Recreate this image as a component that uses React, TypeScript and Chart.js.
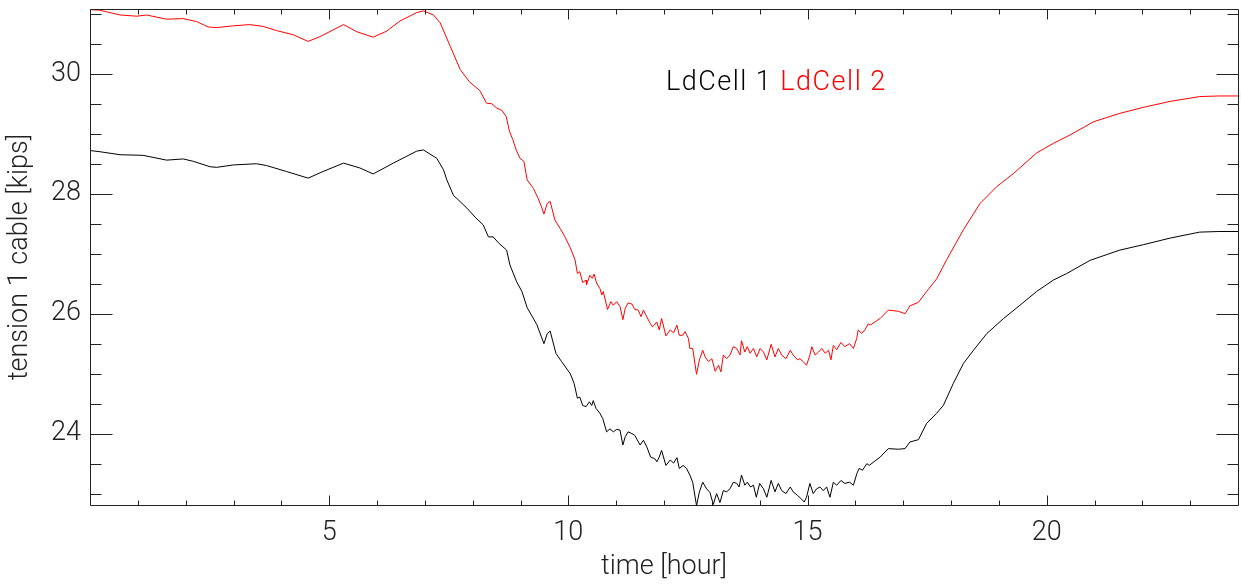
import React, { useEffect, useRef } from 'react';
import { Chart, registerables } from 'chart.js';

Chart.register(...registerables);

// ---- data (time in hours, tension in kips) ----
const redTimes = [
  0, 0.2, 0.63, 0.98, 1.18, 1.6, 1.95, 2.23, 2.47, 2.65, 3.0, 3.34, 3.62, 3.9, 4.25, 4.56, 4.81, 5.08, 5.3, 5.58,
  5.92, 6.2, 6.48, 6.83, 6.97, 7.18, 7.32, 7.53, 7.74, 7.94, 8.15, 8.29, 8.4, 8.5, 8.61, 8.7, 8.77, 8.84, 8.91, 8.99,
  9.07, 9.14, 9.27, 9.37, 9.44, 9.49, 9.56, 9.62, 9.72, 9.83, 9.93, 10.04, 10.14, 10.19, 10.24, 10.3, 10.37, 10.38, 10.45, 10.5,
  10.54, 10.59, 10.66, 10.7, 10.73, 10.82, 10.89, 10.94, 11.01, 11.08, 11.14, 11.19, 11.25, 11.33, 11.39, 11.46, 11.52, 11.57, 11.62, 11.71,
  11.76, 11.85, 11.9, 11.95, 12.04, 12.13, 12.2, 12.27, 12.32, 12.39, 12.44, 12.51, 12.54, 12.6, 12.68, 12.74, 12.81, 12.86, 12.93, 13.0,
  13.07, 13.14, 13.19, 13.24, 13.31, 13.38, 13.45, 13.52, 13.59, 13.62, 13.69, 13.74, 13.8, 13.87, 13.94, 14.01, 14.08, 14.15, 14.24, 14.32,
  14.39, 14.46, 14.55, 14.64, 14.7, 14.79, 14.84, 14.91, 14.98, 15.05, 15.09, 15.16, 15.23, 15.3, 15.37, 15.44, 15.49, 15.54, 15.61, 15.7,
  15.78, 15.88, 15.96, 16.03, 16.06, 16.13, 16.2, 16.27, 16.31, 16.52, 16.69, 16.9, 17.04, 17.14, 17.32, 17.49, 17.7, 17.91, 18.26, 18.61,
  18.96, 19.31, 19.79, 20.14, 20.49, 20.98, 21.53, 22.02, 22.58, 23.2, 23.6, 24.0,
];
const redValues = [
  31.07, 31.06, 30.98, 30.96, 30.98, 30.91, 30.92, 30.87, 30.78, 30.77, 30.8, 30.82, 30.79, 30.72, 30.65, 30.54, 30.62, 30.73, 30.82, 30.7,
  30.61, 30.71, 30.88, 31.02, 31.05, 30.98, 30.85, 30.46, 30.07, 29.86, 29.72, 29.51, 29.5, 29.43, 29.39, 29.29, 29.04, 28.9, 28.73, 28.59,
  28.54, 28.23, 28.09, 27.92, 27.78, 27.66, 27.84, 27.87, 27.56, 27.42, 27.28, 27.1, 26.9, 26.67, 26.7, 26.52, 26.56, 26.48, 26.64, 26.59,
  26.66, 26.51, 26.42, 26.31, 26.37, 26.07, 26.2, 26.14, 26.2, 26.12, 25.9, 26.09, 26.18, 26.16, 26.07, 26.06, 25.95, 26.06, 25.98, 25.84,
  25.78, 25.86, 25.73, 25.92, 25.63, 25.73, 25.68, 25.81, 25.64, 25.64, 25.7, 25.59, 25.42, 25.42, 24.99, 25.23, 25.39, 25.28, 25.2, 25.25,
  25.04, 25.14, 25.03, 25.31, 25.25, 25.31, 25.45, 25.42, 25.31, 25.55, 25.36, 25.45, 25.34, 25.42, 25.28, 25.42, 25.36, 25.23, 25.49, 25.28,
  25.42, 25.31, 25.25, 25.39, 25.31, 25.23, 25.25, 25.2, 25.14, 25.31, 25.45, 25.31, 25.36, 25.42, 25.34, 25.39, 25.23, 25.47, 25.4, 25.52,
  25.45, 25.5, 25.42, 25.59, 25.73, 25.67, 25.73, 25.83, 25.81, 25.92, 26.06, 26.04, 26.0, 26.13, 26.19, 26.37, 26.58, 26.9, 27.4, 27.84,
  28.12, 28.34, 28.68, 28.84, 28.98, 29.2, 29.34, 29.44, 29.54, 29.62, 29.63, 29.63,
];

const blackTimes = [
  0, 0.21, 0.63, 1.11, 1.6, 1.95, 2.16, 2.51, 2.65, 3.0, 3.48, 3.69, 4.11, 4.56, 4.87, 5.3, 5.64, 5.92, 6.34, 6.83,
  6.97, 7.25, 7.39, 7.46, 7.6, 7.67, 7.88, 8.05, 8.22, 8.33, 8.43, 8.54, 8.71, 8.78, 8.85, 8.92, 9.03, 9.14, 9.34, 9.49,
  9.56, 9.62, 9.74, 9.86, 10.04, 10.12, 10.19, 10.24, 10.3, 10.37, 10.44, 10.49, 10.52, 10.58, 10.66, 10.72, 10.8, 10.87, 10.94, 11.01,
  11.08, 11.14, 11.19, 11.25, 11.33, 11.39, 11.5, 11.57, 11.64, 11.72, 11.81, 11.85, 11.9, 11.95, 12.04, 12.13, 12.2, 12.27, 12.32, 12.4,
  12.47, 12.54, 12.6, 12.68, 12.74, 12.81, 12.89, 12.96, 13.03, 13.1, 13.17, 13.24, 13.31, 13.38, 13.45, 13.52, 13.57, 13.62, 13.69, 13.74,
  13.81, 13.87, 13.93, 14.0, 14.08, 14.15, 14.24, 14.32, 14.39, 14.46, 14.55, 14.64, 14.7, 14.79, 14.86, 14.93, 14.98, 15.05, 15.12, 15.19,
  15.26, 15.33, 15.4, 15.47, 15.54, 15.61, 15.7, 15.78, 15.88, 15.96, 16.03, 16.08, 16.15, 16.24, 16.29, 16.52, 16.69, 16.9, 17.04, 17.14,
  17.32, 17.49, 17.7, 17.84, 18.05, 18.26, 18.47, 18.75, 19.1, 19.44, 19.79, 20.14, 20.42, 20.91, 21.53, 22.02, 22.58, 23.2, 23.6, 24.0,
];
const blackValues = [
  28.72, 28.7, 28.65, 28.64, 28.56, 28.58, 28.54, 28.45, 28.44, 28.48, 28.5, 28.47, 28.37, 28.26, 28.37, 28.51, 28.43, 28.33, 28.51, 28.71,
  28.73, 28.59, 28.4, 28.23, 27.97, 27.92, 27.76, 27.61, 27.48, 27.28, 27.28, 27.18, 27.06, 26.81, 26.67, 26.53, 26.37, 26.1, 25.82, 25.5,
  25.67, 25.71, 25.34, 25.2, 25.0, 24.84, 24.59, 24.61, 24.47, 24.45, 24.53, 24.47, 24.55, 24.42, 24.34, 24.25, 24.03, 24.08, 24.03, 24.07,
  24.06, 23.81, 23.95, 24.03, 24.0, 23.97, 23.81, 23.89, 23.78, 23.61, 23.58, 23.53, 23.61, 23.72, 23.47, 23.56, 23.51, 23.6, 23.42, 23.47,
  23.42, 23.31, 23.19, 22.8, 23.03, 23.19, 23.08, 23.02, 22.82, 23.0, 22.85, 23.05, 23.03, 23.08, 23.19, 23.17, 23.11, 23.31, 23.14, 23.19,
  23.11, 23.14, 22.94, 23.17, 23.08, 22.94, 23.22, 23.03, 23.17, 23.05, 23.0, 23.11, 23.03, 22.97, 22.92, 22.86, 22.94, 23.17, 23.0, 23.08,
  23.11, 23.05, 23.11, 22.94, 23.19, 23.14, 23.22, 23.17, 23.19, 23.14, 23.33, 23.42, 23.39, 23.5, 23.47, 23.61, 23.75, 23.74, 23.75, 23.86,
  23.9, 24.17, 24.34, 24.47, 24.84, 25.17, 25.39, 25.67, 25.92, 26.14, 26.37, 26.56, 26.67, 26.89, 27.06, 27.15, 27.26, 27.36, 27.37, 27.37,
];

const seriesNames = ['LdCell 1', 'LdCell 2'];
const seriesColors = ['#000000', '#ff0000'];
const xTickLabels = [5, 10, 15, 20];
const yTickLabels = [24, 26, 28, 30];
const xTitle = 'time [hour]';
const yTitle = 'tension 1 cable [kips]';

const X_MIN = 0;
const X_MAX = 24;
const Y_MIN = 22.81;
const Y_MAX = 31.08;

const FONT = { family: 'Roboto, "Liberation Sans", sans-serif', size: 27, weight: '300' as const };
const TEXT = '#222222';

const idlFrame = {
  id: 'idlFrame',
  afterDraw(chart: any) {
    const { ctx, chartArea, scales } = chart;
    const { left, right, top, bottom } = chartArea;
    const xs = scales.x;
    const ys = scales.y;
    ctx.save();
    ctx.lineWidth = 1;
    ctx.strokeStyle = '#222';
    ctx.beginPath();
    ctx.rect(left + 0.5, top + 0.5, right - left, bottom - top);
    ctx.stroke();
    ctx.beginPath();
    for (let v = X_MIN + 1; v < X_MAX; v += 1) {
      const px = Math.round(xs.getPixelForValue(v)) + 0.5;
      const len = v % 5 === 0 ? 10 : 5;
      ctx.moveTo(px, bottom + 0.5);
      ctx.lineTo(px, bottom + 0.5 - len);
      ctx.moveTo(px, top + 0.5);
      ctx.lineTo(px, top + 0.5 + len);
    }
    for (let v = Math.ceil(Y_MIN * 2) / 2; v <= Y_MAX; v += 0.5) {
      const py = Math.round(ys.getPixelForValue(v)) + 0.5;
      const len = v % 2 === 0 ? 22 : 11;
      ctx.moveTo(left + 0.5, py);
      ctx.lineTo(left + 0.5 + len, py);
      ctx.moveTo(right + 0.5, py);
      ctx.lineTo(right + 0.5 - len, py);
    }
    ctx.stroke();

    // legend text
    ctx.font = `${FONT.weight} ${FONT.size}px ${FONT.family}`;
    (ctx as any).letterSpacing = '1.5px';
    ctx.textBaseline = 'alphabetic';
    ctx.textAlign = 'left';
    const lx = xs.getPixelForValue(12.04);
    const ly = ys.getPixelForValue(29.73);
    ctx.fillStyle = seriesColors[0];
    ctx.fillText(seriesNames[0], lx, ly);
    const w = ctx.measureText(seriesNames[0]).width;
    ctx.fillStyle = seriesColors[1];
    ctx.fillText(seriesNames[1], lx + w + 8, ly);
    (ctx as any).letterSpacing = '0px';
    ctx.restore();
  },
};

export default function App() {
  const ref = useRef<HTMLCanvasElement | null>(null);
  useEffect(() => {
    if (!ref.current) return;
    const chart = new Chart(ref.current, {
      type: 'line',
      data: {
        datasets: [
          {
            label: seriesNames[0],
            data: blackTimes.map((t, i) => ({ x: t, y: blackValues[i] })),
            borderColor: seriesColors[0],
            borderWidth: 1,
            pointRadius: 0,
            tension: 0,
          },
          {
            label: seriesNames[1],
            data: redTimes.map((t, i) => ({ x: t, y: redValues[i] })),
            borderColor: seriesColors[1],
            borderWidth: 1,
            pointRadius: 0,
            tension: 0,
          },
        ],
      },
      options: {
        animation: false,
        responsive: false,
        devicePixelRatio: 1,
        layout: { padding: { top: 9, right: 3, left: 0, bottom: 0 } },
        plugins: { legend: { display: false }, tooltip: { enabled: false } },
        scales: {
          x: {
            type: 'linear',
            min: X_MIN,
            max: X_MAX,
            border: { display: false },
            grid: { display: false, drawTicks: false },
            afterBuildTicks: (s: any) => {
              s.ticks = xTickLabels.map((v) => ({ value: v }));
            },
            afterFit: (s: any) => {
              s.height = 80;
              s.paddingLeft = 0;
              s.paddingRight = 0;
            },
            ticks: { color: TEXT, font: FONT, padding: 12, maxRotation: 0, autoSkip: false },
            title: { display: true, text: xTitle, color: TEXT, font: FONT, padding: { top: 0, bottom: 2 } },
          },
          y: {
            type: 'linear',
            min: Y_MIN,
            max: Y_MAX,
            border: { display: false },
            grid: { display: false, drawTicks: false },
            afterBuildTicks: (s: any) => {
              s.ticks = yTickLabels.map((v) => ({ value: v }));
            },
            afterFit: (s: any) => {
              s.width = 90;
              s.paddingTop = 0;
              s.paddingBottom = 0;
            },
            ticks: { color: TEXT, font: FONT, padding: 9, autoSkip: false },
            title: { display: true, text: yTitle, color: TEXT, font: FONT, padding: { top: 4, bottom: 0 } },
          },
        },
      },
      plugins: [idlFrame],
    });
    return () => chart.destroy();
  }, []);
  return (
    <div style={{ position: 'absolute', left: 0, top: 0, width: 1241, height: 585, background: '#fff' }}>
      <canvas ref={ref} width={1241} height={585} />
    </div>
  );
}
